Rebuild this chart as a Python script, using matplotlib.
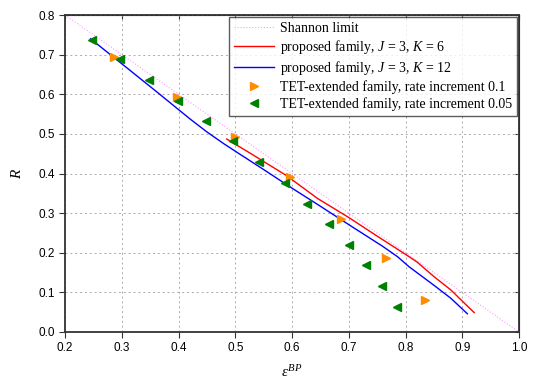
import numpy as np
import matplotlib
matplotlib.use("Agg")
import matplotlib.pyplot as plt

# Shannon limit R = 1 - eps
shannon_eps = [0.2, 1.0]
shannon_R = [0.8, 0.0]

# proposed family J=3, K=6
red_eps = [0.485, 0.53, 0.59, 0.645, 0.70, 0.75, 0.80, 0.82, 0.85, 0.88, 0.90, 0.921]
red_R = [0.487, 0.448, 0.395, 0.337, 0.289, 0.242, 0.196, 0.177, 0.14, 0.106, 0.078, 0.049]

# proposed family J=3, K=12
blue_eps = [0.245, 0.30, 0.36, 0.42, 0.45, 0.48, 0.51, 0.55, 0.60, 0.645, 0.70,
            0.76, 0.786, 0.806, 0.85, 0.88, 0.909]
blue_R = [0.740, 0.677, 0.608, 0.538, 0.505, 0.475, 0.447, 0.410, 0.363, 0.322, 0.271,
          0.216, 0.190, 0.165, 0.118, 0.085, 0.046]

# TET-extended, rate increment 0.1
tet1_eps = [0.287, 0.397, 0.499, 0.597, 0.687, 0.766, 0.834]
tet1_R = [0.694, 0.594, 0.492, 0.390, 0.285, 0.188, 0.082]

# TET-extended, rate increment 0.05
tet05_eps = [0.247, 0.297, 0.348, 0.399, 0.449, 0.496, 0.541, 0.587, 0.627,
             0.666, 0.700, 0.731, 0.759, 0.785]
tet05_R = [0.738, 0.688, 0.636, 0.584, 0.533, 0.481, 0.429, 0.376, 0.324,
           0.272, 0.220, 0.168, 0.115, 0.063]

plt.rcParams['font.family'] = ['Liberation Sans', 'DejaVu Sans']
plt.rcParams['mathtext.fontset'] = 'custom'
plt.rcParams['mathtext.it'] = 'Liberation Serif:italic'
plt.rcParams['mathtext.rm'] = 'Liberation Serif'
serif = ['Liberation Serif', 'DejaVu Serif']

fig = plt.figure(figsize=(5.38, 3.8), dpi=100)
ax = fig.add_axes([65/538, 1-332/380, (519-65)/538, (332-15)/380])

ax.plot(shannon_eps, shannon_R, color='#ff99ff', linestyle=':', lw=0.8, label='Shannon limit')
ax.plot(red_eps, red_R, color='red', lw=1.0, label=r'proposed family, $J$ = 3, $K$ = 6')
ax.plot(blue_eps, blue_R, color='blue', lw=1.0, label=r'proposed family, $J$ = 3, $K$ = 12')
ax.plot(tet1_eps, tet1_R, linestyle='none', marker='>', color='#ff8c00', markersize=6,
        label='TET-extended family, rate increment 0.1')
ax.plot(tet05_eps, tet05_R, linestyle='none', marker='<', color='green', markersize=6,
        label='TET-extended family, rate increment 0.05')

ax.set_xlim(0.2, 1.0)
ax.set_ylim(0.0, 0.8)
ax.set_xticks(np.arange(0.2, 1.01, 0.1))
ax.set_yticks(np.arange(0.0, 0.81, 0.1))
ax.xaxis.set_major_formatter(matplotlib.ticker.FormatStrFormatter('%.1f'))
ax.yaxis.set_major_formatter(matplotlib.ticker.FormatStrFormatter('%.1f'))
ax.grid(True, color='#aaaaaa', linestyle=(0, (2, 3)), lw=0.7)
ax.tick_params(labelsize=8.5, direction='out', length=4, color='#333333')
for s in ax.spines.values():
    s.set_color('#333333')
    s.set_linewidth(1.3)

# small inward ticks on top and right
top = ax.secondary_xaxis('top')
top.set_xticks(np.arange(0.2, 1.01, 0.1))
top.tick_params(direction='in', length=3, labeltop=False, color='#333333')
right = ax.secondary_yaxis('right')
right.set_yticks(np.arange(0.0, 0.81, 0.1))
right.tick_params(direction='in', length=3, labelright=False, color='#333333')

ax.set_xlabel(r'$\epsilon^{BP}$', fontsize=11, family=serif, labelpad=7)
ax.set_ylabel(r'$R$', fontsize=11, family=serif, labelpad=10)

leg = ax.legend(loc='upper right', prop={'family': serif, 'size': 10}, frameon=True,
                fancybox=False, borderpad=0.35, labelspacing=0.22, handlelength=2.9,
                handletextpad=0.4, borderaxespad=0.15)
leg.get_frame().set_edgecolor('#333333')
leg.get_frame().set_linewidth(1.0)

fig.savefig('out.png', dpi=100)
